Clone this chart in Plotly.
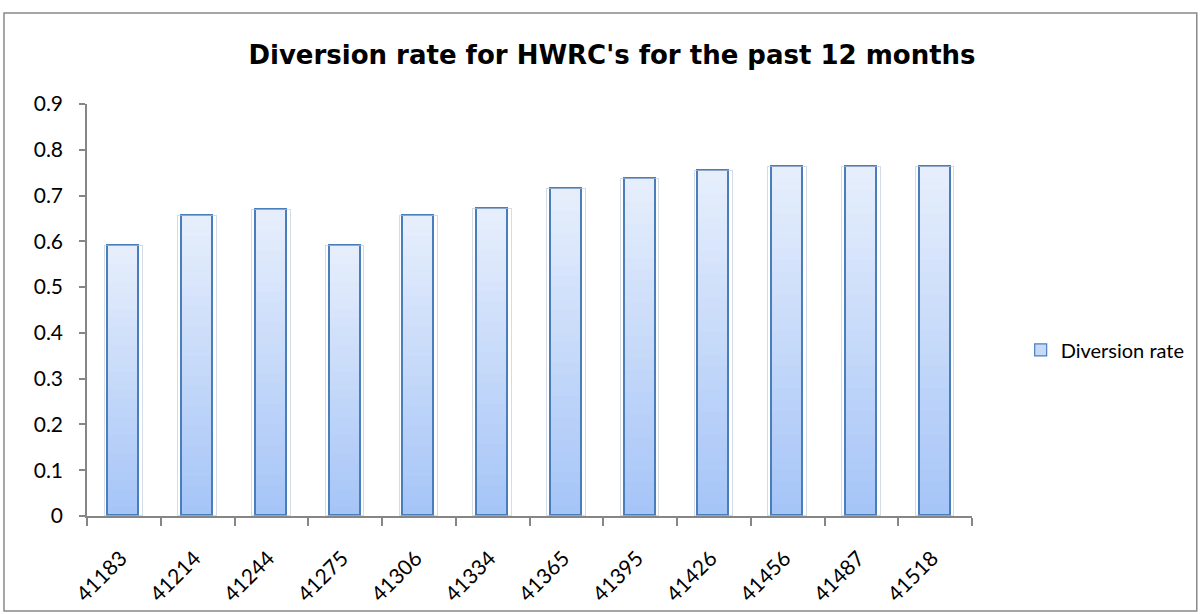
import plotly.graph_objects as go

categories = ["41183", "41214", "41244", "41275", "41306", "41334",
              "41365", "41395", "41426", "41456", "41487", "41518"]
diversion_rate = [0.590, 0.656, 0.668, 0.590, 0.655, 0.670,
                  0.714, 0.736, 0.754, 0.763, 0.763, 0.763]
y_ticks = [0, 0.1, 0.2, 0.3, 0.4, 0.5, 0.6, 0.7, 0.8, 0.9]

N_SEG = 30
bottom_rgb = (166, 197, 247)
top_rgb = (230, 238, 252)
BAR_W = 0.42
FONT = "Lato"
FS = 20

fig = go.Figure()

# gradient fill built from stacked slices of each bar value
for i in range(N_SEG):
    t = i / (N_SEG - 1)
    c = tuple(int(round(b + (tp - b) * t)) for b, tp in zip(bottom_rgb, top_rgb))
    fig.add_trace(go.Bar(
        x=categories, y=[v / N_SEG for v in diversion_rate],
        marker=dict(color=f"rgb{c}", line=dict(width=0)),
        width=BAR_W, showlegend=False, hoverinfo="skip",
    ))

# soft glow around bars
fig.add_trace(go.Bar(
    x=categories, y=diversion_rate, xaxis="x3",
    marker=dict(color="rgba(0,0,0,0)", line=dict(color="rgba(185,195,215,0.6)", width=1)),
    width=BAR_W + 0.1, showlegend=False, hoverinfo="skip",
))
# outline of bars
fig.add_trace(go.Bar(
    x=categories, y=diversion_rate, xaxis="x2", name="Diversion rate",
    marker=dict(color="rgba(0,0,0,0)", line=dict(color="#4a7ebb", width=1.8)),
    width=BAR_W, showlegend=False,
))
# legend entry
fig.add_trace(go.Bar(
    x=[None], y=[None], name="Diversion rate",
    marker=dict(color="#c6d9f7", line=dict(color="#4a7ebb", width=1.2)),
    showlegend=True,
))

overlay_axis = dict(type="category", categoryorder="array", categoryarray=categories,
                    overlaying="x", visible=False, matches="x")

fig.update_layout(
    width=1202, height=614,
    margin=dict(l=87, r=230, t=104, b=98, autoexpand=False),
    paper_bgcolor="white", plot_bgcolor="white",
    barmode="stack", bargap=0,
    title=dict(text="<b>Diversion rate for HWRC's for the past 12 months</b>",
               x=612 / 1202, xref="container", xanchor="center",
               y=1 - 55 / 614, yref="container", yanchor="middle",
               font=dict(family="DejaVu Sans", size=26, color="black")),
    font=dict(family=FONT, size=FS, color="black"),
    xaxis=dict(type="category", categoryorder="array", categoryarray=categories,
               showline=True, linecolor="#868686", linewidth=1.5,
               ticks="outside", tickson="boundaries", ticklen=8, tickcolor="#868686",
               tickwidth=1.5, tickangle=-45, showgrid=False, zeroline=False,
               ticklabelstandoff=20, ticklabelshift=-3,
               tickfont=dict(family=FONT, size=21, color="black")),
    xaxis2=overlay_axis,
    xaxis3=overlay_axis,
    yaxis=dict(range=[0, 0.9], tickvals=y_ticks, showline=True, linecolor="#868686",
               linewidth=1.5, ticks="outside", ticklen=6, tickcolor="#868686",
               tickwidth=1.5, showgrid=False, zeroline=False,
               ticklabelstandoff=12,
               tickfont=dict(family=FONT, size=21, color="black")),
    legend=dict(x=1.055, xanchor="left", y=0.403, yanchor="middle",
                font=dict(family=FONT, size=FS, color="black"),
                bgcolor="rgba(0,0,0,0)"),
    shapes=[dict(type="rect", xref="paper", yref="paper",
                 x0=-0.0938, x1=1.254, y0=-0.2306, y1=1.221,
                 line=dict(color="#898989", width=1.5), fillcolor="rgba(0,0,0,0)",
                 layer="below")],
)

fig.write_html("out.html", config={"displayModeBar": False},
               post_script="document.body.style.margin='0';document.body.style.overflow='hidden';")
